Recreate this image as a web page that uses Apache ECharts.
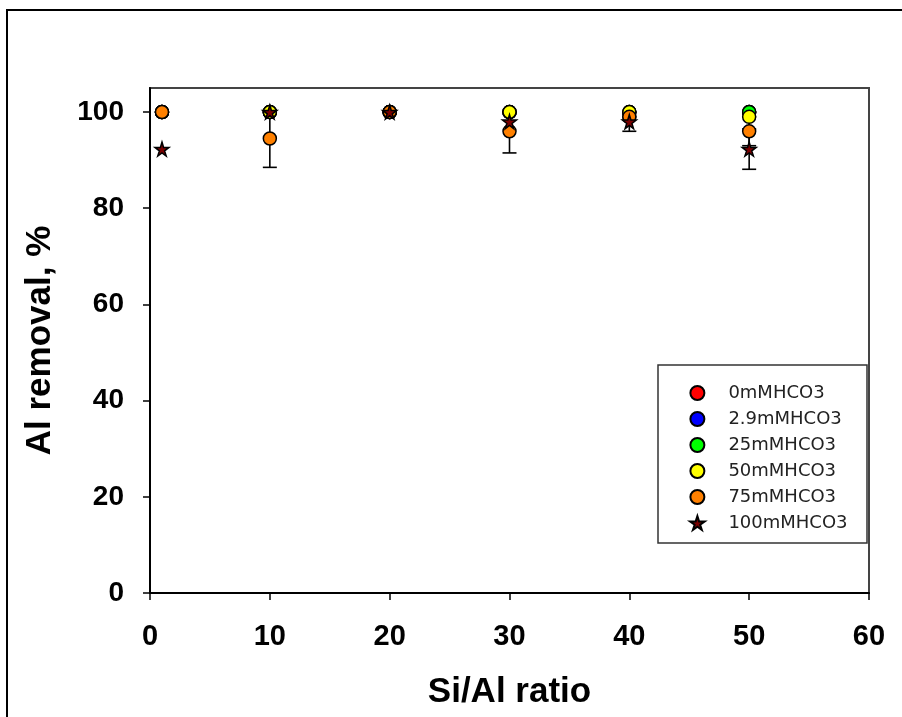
<!DOCTYPE html>
<html>
<head>
<meta charset="utf-8">
<script src="https://cdn.jsdelivr.net/npm/echarts@6/dist/echarts.min.js"></script>
<style>
html,body{margin:0;padding:0;background:#fff;}
#chart{width:902px;height:717px;}
</style>
</head>
<body>
<div id="chart"></div>
<script>
// Si/Al ratio (x positions)
const siAl = [1, 10, 20, 30, 40, 50];
// Al removal, % per HCO3 concentration
const names = ['0mMHCO3', '2.9mMHCO3', '25mMHCO3', '50mMHCO3', '75mMHCO3', '100mMHCO3'];
const v0   = [100, 100, 100, 100, 99, 100];
const v2_9 = [100, 100, 100, 100, 100, 100];
const v25  = [100, 100, 100, 100, 100, 100];
const v50  = [100, 100, 100, 100, 100, 99];
const v75  = [100, 94.5, 100, 96, 99, 96];
const v100 = [92.3, 100, 100, 98, 98, 92.3];
// error (± values)
const e75  = [0, 6, 0, 4.5, 0, 3];
const e100 = [0, 0, 0, 0, 2, 4.2];
// tick labels
const xTicks = [0, 10, 20, 30, 40, 50, 60];
const yTicks = [0, 20, 40, 60, 80, 100];

const colors = ['#ff0000', '#0000ff', '#00ff00', '#ffff00', '#ff8000', '#7a0000'];
const starPath = 'path://M50,0 L61,35 L98,35 L68,57 L79,91 L50,70 L21,91 L32,57 L2,35 L39,35 Z';
const allVals = [v0, v2_9, v25, v50, v75, v100];

function pts(vals) { return siAl.map((x, i) => [x, vals[i]]); }
function errPts(vals, errs) { return siAl.map((x, i) => [x, vals[i], errs[i]]); }

function errRender(params, api) {
  const x = api.value(0), y = api.value(1), e = api.value(2);
  if (!e) return { type: 'group', children: [] };
  const t = api.coord([x, y + e]);
  const b = api.coord([x, y - e]);
  const hw = 7;
  const st = { stroke: '#000', lineWidth: 1.6 };
  return {
    type: 'group',
    children: [
      { type: 'line', shape: { x1: t[0], y1: t[1], x2: b[0], y2: b[1] }, style: st },
      { type: 'line', shape: { x1: t[0] - hw, y1: t[1], x2: t[0] + hw, y2: t[1] }, style: st },
      { type: 'line', shape: { x1: b[0] - hw, y1: b[1], x2: b[0] + hw, y2: b[1] }, style: st }
    ]
  };
}

const series = [
  { type: 'custom', name: 'err75', renderItem: errRender, data: errPts(v75, e75), z: 1, silent: true },
  { type: 'custom', name: 'err100', renderItem: errRender, data: errPts(v100, e100), z: 1, silent: true }
];
names.forEach((n, i) => {
  series.push({
    type: 'scatter',
    name: n,
    data: pts(allVals[i]),
    symbol: i === 5 ? starPath : 'circle',
    symbolSize: i === 5 ? 14 : 13,
    z: 2 + i,
    itemStyle: { color: colors[i], borderColor: '#000', borderWidth: 1.5, opacity: 1 }
  });
});

const chart = echarts.init(document.getElementById('chart'), null, { renderer: 'canvas' });
chart.setOption({
  backgroundColor: '#fff',
  animation: false,
  graphic: [
    { type: 'rect', shape: { x: 7, y: 10, width: 1000, height: 1000 }, style: { fill: 'none', stroke: '#000', lineWidth: 2 }, z: 0 },
    { type: 'rect', shape: { x: 658, y: 365, width: 209, height: 178 }, style: { fill: '#fff', stroke: '#333', lineWidth: 1.5 }, z: 10 }
  ],
  grid: { left: 150, top: 88, right: 33, bottom: 124, show: true, borderColor: '#444', borderWidth: 2, containLabel: false },
  legend: {
    data: names,
    orient: 'vertical',
    left: 684,
    top: 379,
    itemWidth: 52,
    itemHeight: 14,
    itemGap: 8,
    z: 20,
    textStyle: { fontFamily: 'DejaVu Sans', fontSize: 18, color: '#222' }
  },
  xAxis: {
    type: 'value', min: 0, max: 60, interval: 10,
    name: 'Si/Al ratio', nameLocation: 'middle', nameGap: 82,
    nameTextStyle: { fontFamily: 'Liberation Sans', fontWeight: 'bold', fontSize: 35, color: '#000' },
    axisLine: { lineStyle: { color: '#000', width: 2 } },
    axisTick: { inside: false, length: 7, lineStyle: { color: '#000', width: 1.5 }, customValues: xTicks },
    axisLabel: { margin: 29, fontFamily: 'Liberation Sans', fontWeight: 'bold', fontSize: 29, color: '#000', customValues: xTicks },
    splitLine: { show: false }
  },
  yAxis: {
    type: 'value', min: 0, max: 105, interval: 20,
    name: 'Al removal, %', nameLocation: 'middle', nameGap: 92, nameRotate: 90,
    nameTextStyle: { fontFamily: 'Liberation Sans', fontWeight: 'bold', fontSize: 35, color: '#000' },
    axisLine: { lineStyle: { color: '#000', width: 2 } },
    axisTick: { inside: false, length: 7, lineStyle: { color: '#000', width: 1.5 }, customValues: yTicks },
    axisLabel: { margin: 26, fontFamily: 'Liberation Sans', fontWeight: 'bold', fontSize: 28, color: '#000', customValues: yTicks },
    splitLine: { show: false }
  },
  series: series
});
</script>
</body>
</html>
